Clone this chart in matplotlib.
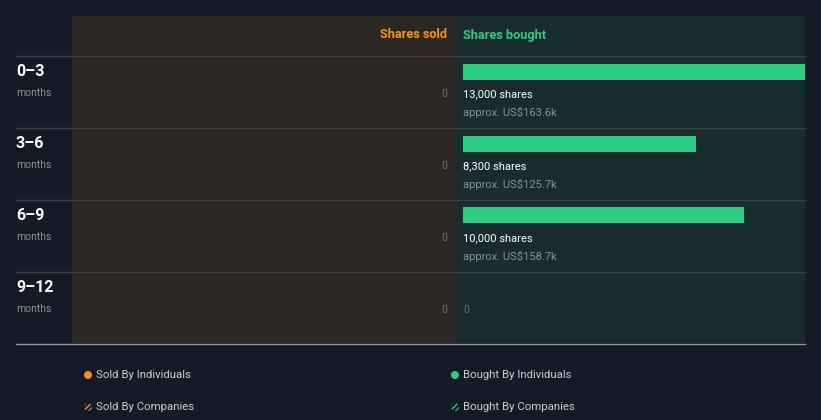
import matplotlib.pyplot as plt
from matplotlib.patches import Rectangle, Circle

periods = ["0\u20133", "3\u20136", "6\u20139", "9\u201312"]
sold_shares = [0, 0, 0, 0]
bought_shares = [13000, 8300, 10000, 0]
bought_labels = ["13,000 shares", "8,300 shares", "10,000 shares", None]
bought_values = ["approx. US$163.6k", "approx. US$125.7k", "approx. US$158.7k", None]
legend_items = ["Sold By Individuals", "Bought By Individuals",
                "Sold By Companies", "Bought By Companies"]

bg = "#151b26"
sold_bg = "#2d2823"
bought_bg = "#182b2f"
orange = "#f7931e"
green = "#2ecc80"
grid_c = "#3b4046"
grey = "#8b8f94"

plt.rcParams['font.family'] = ['Roboto', 'DejaVu Sans']

W, H = 821, 420
fig = plt.figure(figsize=(W / 100, H / 100), dpi=100)
fig.patch.set_facecolor(bg)

# full-figure axes in pixel coordinates
ax = fig.add_axes([0, 0, 1, 1])
ax.set_xlim(0, W)
ax.set_ylim(H, 0)
ax.axis('off')

top, head, row_h = 16, 56, 72
mid, left, right = 455, 72, 805
bottom = head + row_h * len(periods) - 1

ax.add_patch(Rectangle((left, top), mid - left, bottom - top, color=sold_bg, lw=0))
ax.add_patch(Rectangle((mid, top), right - mid, bottom - top, color=bought_bg, lw=0))

ax.text(mid - 8, 35, "Shares sold", color=orange, fontsize=9.2, fontweight='bold',
        ha='right', va='center')
ax.text(mid + 8, 35, "Shares bought", color=green, fontsize=9.2, fontweight='bold',
        ha='left', va='center')

for i, p in enumerate(periods):
    y0 = head + i * row_h
    ax.plot([16, right], [y0, y0], color=grid_c, lw=1)
    ax.text(16, y0 + 15.5, p, color='white', fontsize=11.5, fontweight='bold',
            ha='left', va='center')
    ax.text(16, y0 + 37, "months", color=grey, fontsize=7.5, ha='left', va='center')
    ax.text(mid - 8, y0 + 38, f"{sold_shares[i]:,}", color="#6b6e72", fontsize=7.5,
            ha='right', va='center')
    if bought_shares[i] == 0:
        ax.text(mid + 8, y0 + 38, "0", color="#6b6e72", fontsize=7.5,
                ha='left', va='center')
    else:
        ax.text(mid + 8, y0 + 38, bought_labels[i], color='white', fontsize=8,
                ha='left', va='center')
        ax.text(mid + 8, y0 + 56, bought_values[i], color=grey, fontsize=8,
                ha='left', va='center')

ax.plot([16, right], [bottom + 0.5, bottom + 0.5], color="#8a9aa0", lw=1)

# legend
leg_pos = [(88, 375), (455, 375), (88, 407), (455, 407)]
leg_col = [orange, green, orange, green]
for k, (lx, ly) in enumerate(leg_pos):
    if k < 2:
        ax.add_patch(Circle((lx, ly), 4, color=leg_col[k], lw=0))
    else:
        ax.add_patch(Circle((lx, ly), 4, facecolor='none', edgecolor=leg_col[k],
                            hatch='//////', lw=0))
    ax.text(lx + 8, ly, legend_items[k], color="#c9cdd2", fontsize=8.2,
            ha='left', va='center')

# bought bars axes
px_per_share = 233 / 8300
bx0 = mid + 8
bax = fig.add_axes([bx0 / W, 1 - bottom / H, (right - bx0) / W, (bottom - head) / H])
bax.set_xlim(0, (right - bx0) / px_per_share)
bax.set_ylim(len(periods), 0)
bax.axis('off')
bax.patch.set_alpha(0)
ypos = [i + 16 / row_h for i in range(len(periods))]
bax.barh(ypos, bought_shares, height=16 / row_h, color=green, lw=0)

fig.savefig("out.png", dpi=100, facecolor=bg)
